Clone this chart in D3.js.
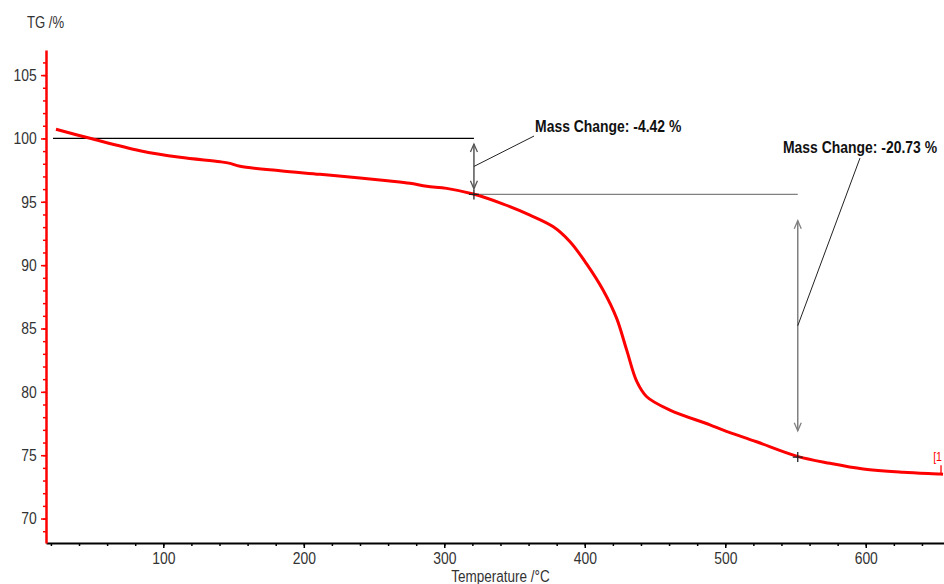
<!DOCTYPE html>
<html>
<head>
<meta charset="utf-8">
<script src="https://cdn.jsdelivr.net/npm/d3@7"></script>
<style>
  body { margin: 0; background: #fff; }
  svg { display: block; }
  text { font-family: "Liberation Sans", Arial, sans-serif; }
</style>
</head>
<body>
<div id="chart"></div>
<script>
// TG curve (temperature in °C, mass in %)
const temps = [23.6, 47.8, 83.4, 111.9, 140.4, 147.5, 154.6, 183.1, 211.5, 240.0,
  261.3, 275.6, 287.5, 301.7, 320.6, 342.0, 361.0, 377.6, 389.5, 401.3,
  413.2, 422.7, 429.8, 437.0, 444.1, 460.6, 489.1, 498.6, 522.3, 550.8,
  574.5, 598.2, 626.7, 652.8, 655.0];
const tgValues = [100.72, 100.01, 99.03, 98.51, 98.16, 98.03, 97.80, 97.45, 97.17, 96.87,
  96.64, 96.46, 96.22, 96.06, 95.61, 94.82, 93.95, 93.03, 91.85, 90.10,
  88.00, 85.80, 83.31, 80.82, 79.61, 78.56, 77.40, 76.98, 76.06, 74.93,
  74.36, 73.91, 73.65, 73.51, 73.49];

const xTicks = [100, 200, 300, 400, 500, 600];
const yTicks = [70, 75, 80, 85, 90, 95, 100, 105];

// mass change steps
const stepTemps = [321.1, 551.6];         // where the arrow is drawn
const stepLineFrom = [21.5, 321.1];       // start of the upper reference line
const stepFrom = [100, 95.58];
const stepChange = [-4.42, -20.73];
const stepLabels = ["Mass Change: -4.42 %", "Mass Change: -20.73 %"];
const labelTemps = [364.6, 541.1];
const labelValues = [100.51, 98.85];
const leaderTemps = [363.9, 595.9];
const leaderValues = [100.19, 98.45];

const data = temps.map((t, i) => ({ t: t, v: tgValues[i] }));

const margin = { top: 50, right: 0, bottom: 41, left: 46 },
  width = 944 - margin.left - margin.right,
  height = 584 - margin.top - margin.bottom;

// the original uses a narrow sans face, so squeeze the text horizontally
const narrow = 0.82;

const svgRoot = d3.select("#chart")
  .append("svg")
  .attr("width", 944)
  .attr("height", 584);

const svg = svgRoot.append("g")
  .attr("transform", `translate(${margin.left},${margin.top})`);

const addText = (parent, px, py, str) =>
  parent.append("text")
    .attr("transform", `translate(${px},${py}) scale(${narrow},1)`)
    .text(str);

const x = d3.scaleLinear().domain([16.5, 655.7]).range([0, width]);
const y = d3.scaleLinear().domain([68.07, 106.98]).range([height, 0]);

// X axis: minor ticks every 20, major every 100
svg.append("g")
  .attr("transform", `translate(0,${height})`)
  .call(d3.axisBottom(x).tickValues(d3.range(20, 656, 20)).tickSize(3).tickSizeOuter(0).tickFormat(""))
  .call(g => g.select(".domain").remove())
  .call(g => g.selectAll("line").attr("stroke", "#000").attr("stroke-width", 1.5));

const xAxis = svg.append("g")
  .attr("transform", `translate(0,${height})`)
  .call(d3.axisBottom(x).tickValues(xTicks).tickSize(5).tickSizeOuter(0).tickPadding(4));
xAxis.select(".domain").attr("stroke", "#000").attr("stroke-width", 2);
xAxis.selectAll("line").attr("stroke", "#000").attr("stroke-width", 1.5);
xAxis.selectAll("text")
  .attr("font-size", 17).attr("fill", "#333")
  .style("font-family", "'Liberation Sans', Arial, sans-serif")
  .attr("transform", `scale(${narrow},1)`);

// Y axis: minor ticks every 1, major every 5
svg.append("g")
  .call(d3.axisLeft(y).tickValues(d3.range(69, 107, 1)).tickSize(3).tickSizeOuter(0).tickFormat(""))
  .call(g => g.select(".domain").remove())
  .call(g => g.selectAll("line").attr("stroke", "#f00").attr("stroke-width", 1.5));

const yAxis = svg.append("g")
  .call(d3.axisLeft(y).tickValues(yTicks).tickSize(5).tickSizeOuter(0).tickPadding(6.3));
yAxis.select(".domain").attr("stroke", "#f00").attr("stroke-width", 2.5);
yAxis.selectAll("line").attr("stroke", "#f00").attr("stroke-width", 1.5);
yAxis.selectAll("text")
  .attr("font-size", 17).attr("fill", "#333")
  .style("font-family", "'Liberation Sans', Arial, sans-serif")
  .attr("transform", `scale(${narrow},1)`);

// axis titles
addText(svgRoot, 27, 28, "TG /%")
  .attr("font-size", 16).attr("fill", "#333");

addText(svgRoot, margin.left + x(340), 582, "Temperature /°C")
  .attr("text-anchor", "middle")
  .attr("font-size", 16.5).attr("fill", "#333");

// annotations for each step
stepTemps.forEach((t, i) => {
  const top = stepFrom[i];
  const bottom = stepFrom[i] + stepChange[i];
  const ax = x(t);
  const y0 = y(top), y1 = y(bottom);
  const inset = (y1 - y0) * 0.1;
  const mid = (y0 + y1) / 2;

  // upper reference line
  svg.append("line")
    .attr("x1", x(stepLineFrom[i])).attr("x2", ax)
    .attr("y1", y0).attr("y2", y0)
    .attr("stroke", i === 0 ? "#000" : "#808080")
    .attr("stroke-width", 1.3);

  // double arrow
  const arrowColor = i === 0 ? "#555" : "#808080";
  svg.append("line")
    .attr("x1", ax).attr("x2", ax)
    .attr("y1", y0 + inset).attr("y2", y1 - inset)
    .attr("stroke", arrowColor).attr("stroke-width", 1.5);
  svg.append("path")
    .attr("d", `M${ax - 3.5},${y0 + inset + 8}L${ax},${y0 + inset}L${ax + 3.5},${y0 + inset + 8}`)
    .attr("fill", "none").attr("stroke", arrowColor).attr("stroke-width", 1.3);
  svg.append("path")
    .attr("d", `M${ax - 3.5},${y1 - inset - 8}L${ax},${y1 - inset}L${ax + 3.5},${y1 - inset - 8}`)
    .attr("fill", "none").attr("stroke", arrowColor).attr("stroke-width", 1.3);

  // leader line to the label
  svg.append("line")
    .attr("x1", ax).attr("y1", mid)
    .attr("x2", x(leaderTemps[i])).attr("y2", y(leaderValues[i]))
    .attr("stroke", "#222").attr("stroke-width", 1);

  addText(svg, x(labelTemps[i]), y(labelValues[i]), stepLabels[i])
    .attr("font-size", 17).attr("font-weight", "bold").attr("fill", "#111");
});

// TG curve
svg.append("path")
  .datum(data)
  .attr("fill", "none")
  .attr("stroke", "#ff0000")
  .attr("stroke-width", 3)
  .attr("stroke-linejoin", "round")
  .attr("d", d3.line()
    .x(d => x(d.t))
    .y(d => y(d.v))
    .curve(d3.curveCatmullRom.alpha(0.5)));

// "+" markers at the step points
stepTemps.forEach((t, i) => {
  const px = x(t), py = y(stepFrom[i] + stepChange[i]);
  svg.append("path")
    .attr("d", `M${px - 5},${py}H${px + 5}M${px},${py - 5}V${py + 5}`)
    .attr("stroke", "#222").attr("stroke-width", 1.3);
});

// curve end tag
const last = data[data.length - 1];
svg.append("path")
  .attr("d", `M${x(last.t) - 2},${y(last.v)}V${y(last.v) - 9}`)
  .attr("stroke", "#ff0000").attr("stroke-width", 1.3);
addText(svg, x(last.t) - 1, y(last.v) - 13, "[1")
  .attr("text-anchor", "end")
  .attr("font-size", 13).attr("fill", "#ff0000");
</script>
</body>
</html>
